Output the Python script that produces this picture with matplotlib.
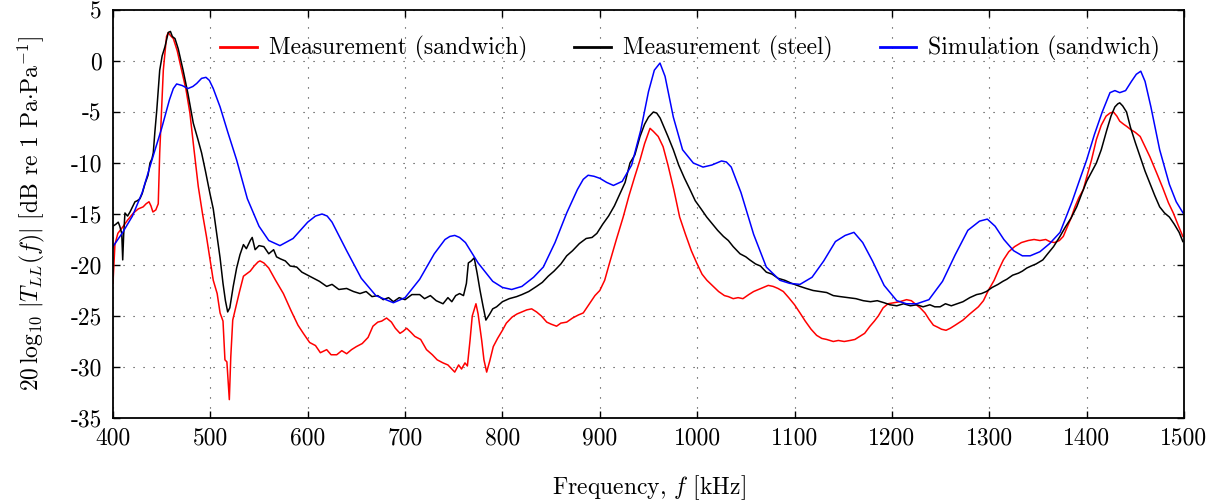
import matplotlib
matplotlib.use("Agg")
import matplotlib.pyplot as plt
from matplotlib.ticker import MultipleLocator
import warnings
warnings.filterwarnings("ignore")

plt.rcParams['font.family'] = ['cmr10', 'DejaVu Serif']
plt.rcParams['mathtext.fontset'] = 'cm'
plt.rcParams['axes.unicode_minus'] = False
plt.rcParams['font.size'] = 17

# Measurement (sandwich) - red, (frequency kHz, dB) pairs
sandwich_meas = [
    (400, -21.8), (402, -18.0), (405, -16.9), (410.6, -16.2), (415, -15.6), (421, -14.9), (426, -14.5),
    (431, -14.3), (434, -14.0), (437, -13.8), (439, -14.2), (441, -14.8), (444, -14.6), (446.5, -14.0),
    (448, -9.0), (451.7, -0.9), (455, 2.4), (456.8, 2.8), (459, 2.5), (462, 2.2), (466, 1.0), (470.5, -0.9),
    (475, -2.8), (479, -5.1), (483, -8.5), (487.6, -12.3), (492, -15.0), (496, -17.2), (503, -21.5),
    (507, -22.8), (510, -24.7), (513, -25.5), (515, -29.3), (517, -29.5), (519.5, -33.2), (521, -29.0),
    (523, -25.4), (527, -23.8), (530, -22.6), (534, -21.1), (541, -20.6), (545, -20.1), (549, -19.7),
    (551, -19.6), (555, -19.8), (560, -20.3), (567, -21.5), (575, -22.8), (583, -24.5), (590, -25.9),
    (595.5, -26.7), (602, -27.6), (608, -27.9), (613, -28.6), (619.5, -28.3), (624, -28.8), (629.8, -28.8),
    (635, -28.4), (640, -28.7), (645, -28.3), (650, -28.0), (656, -27.7), (662, -27.1), (667, -26.0),
    (672, -25.6), (676, -25.5), (681, -25.2), (686, -25.6), (690, -26.2), (694.8, -26.7), (698, -26.5),
    (701.6, -26.2), (706, -26.6), (710, -27.0), (716, -27.3), (722, -28.3), (728, -28.8), (733, -29.3),
    (739, -29.6), (744, -29.8), (748, -30.2), (751, -30.5), (755, -29.8), (758, -30.2), (761.5, -29.6),
    (764, -29.9), (766.7, -27.4), (769, -25.0), (772.8, -23.8), (775, -24.8), (778.7, -27.4), (781, -29.3),
    (783.8, -30.5), (787, -29.4), (790.6, -28.0), (795, -27.2), (800, -26.4), (804, -25.7), (810, -25.1),
    (815, -24.8), (820, -24.6), (825, -24.4), (830, -24.3), (835, -24.6), (840, -25.0), (845.5, -25.6),
    (850, -25.8), (855.6, -26.0), (860, -25.7), (866, -25.6), (872, -25.2), (878, -24.9), (883, -24.7),
    (890, -23.7), (895, -23.0), (900, -22.5), (905, -21.5), (910, -19.8), (917, -17.5), (924, -15.3),
    (930, -13.2), (936, -11.3), (941.3, -9.7), (946, -8.1), (951.6, -6.6), (955, -6.9), (960, -7.4),
    (965, -8.4), (970, -10.2), (976, -12.6), (982, -15.3), (988, -17.0), (994, -18.6), (999.5, -19.8),
    (1005, -20.9), (1010, -21.5), (1016.6, -22.1), (1022, -22.6), (1028, -23.0), (1032, -23.1),
    (1037, -23.3), (1042, -23.2), (1047, -23.3), (1053, -22.9), (1058, -22.6), (1063, -22.4), (1068, -22.2),
    (1073, -22.0), (1078, -22.1), (1083, -22.3), (1088.5, -22.6), (1094, -23.2), (1100, -23.9),
    (1105.6, -24.7), (1111, -25.5), (1117, -26.3), (1122.7, -26.9), (1128, -27.2), (1133, -27.3),
    (1139.8, -27.5), (1145, -27.4), (1151, -27.5), (1157, -27.4), (1162, -27.3), (1167, -27.0),
    (1172, -26.7), (1177.5, -26.0), (1182, -25.5), (1186, -25.0), (1191, -24.2), (1196, -23.8),
    (1202, -23.7), (1208, -23.6), (1215, -23.4), (1220, -23.5), (1225, -23.9), (1229, -24.2), (1234, -24.7),
    (1238, -25.3), (1242.6, -25.9), (1247, -26.1), (1251, -26.3), (1255.6, -26.4), (1260, -26.2),
    (1265, -25.9), (1273, -25.4), (1280, -24.8), (1288.8, -24.1), (1294, -23.5), (1299, -22.5),
    (1305, -21.5), (1310, -20.4), (1314.5, -19.5), (1320, -18.7), (1326, -18.2), (1333, -17.8),
    (1340, -17.6), (1346, -17.5), (1352, -17.6), (1358, -17.5), (1362, -17.7), (1367, -17.8), (1372, -17.6),
    (1376, -17.2), (1379.5, -16.4), (1384, -15.4), (1388, -14.3), (1392, -13.4), (1396.6, -12.6),
    (1400, -11.4), (1405, -9.7), (1410, -7.7), (1415, -6.3), (1420, -5.4), (1424, -5.1), (1427.5, -5.0),
    (1431, -5.4), (1434, -5.9), (1438, -6.2), (1441, -6.4), (1445, -6.7), (1450, -7.0), (1455, -7.4),
    (1460, -8.4), (1465, -9.4), (1472, -11.0), (1478, -12.4), (1484, -13.9), (1489, -14.9), (1494, -16.1),
    (1498.8, -17.2)]

# Measurement (steel) - black
steel_meas = [
    (400, -16.2), (403, -16.0), (405.4, -15.8), (407, -16.2), (409, -16.9), (410, -19.5), (411, -17.0),
    (412.3, -14.9), (415, -15.2), (417.5, -14.8), (420, -14.3), (422.6, -13.8), (425, -13.7), (427.7, -13.5),
    (430, -13.0), (433, -12.0), (436, -11.2), (438, -10.0), (440, -9.6), (441.4, -9.0), (443, -7.0),
    (445, -4.8), (448, -0.9), (450.5, 0.5), (453.4, 1.4), (456.8, 2.8), (459, 2.9), (461, 2.4), (463.7, 2.2),
    (467, 1.2), (472, -0.9), (477, -3.2), (482.5, -6.1), (487, -7.6), (491, -9.0), (495, -10.8),
    (499.6, -13.0), (503, -14.5), (506.5, -16.9), (510, -19.3), (513, -21.8), (515.5, -23.5), (517.8, -24.6),
    (520, -24.2), (523.5, -22.1), (527, -20.3), (530.4, -19.0), (534, -18.0), (537, -18.4), (541, -17.6),
    (543, -17.3), (546, -18.5), (550, -18.1), (555, -18.2), (560, -18.9), (565, -18.5), (568, -19.2),
    (572, -19.4), (577, -19.6), (582, -20.1), (588.7, -20.2), (594, -20.7), (600, -21.0), (606, -21.3),
    (612, -21.6), (619.5, -22.1), (625, -21.9), (632, -22.4), (640, -22.3), (647, -22.6), (653.7, -22.8),
    (660, -22.6), (666, -23.1), (672, -23.0), (677.6, -23.4), (683, -23.2), (688, -23.6), (694, -23.2),
    (700, -23.4), (707, -22.9), (715, -22.9), (720, -23.3), (726, -23.0), (732, -23.5), (739, -23.8),
    (744, -23.2), (748, -23.6), (752, -23.0), (756, -22.8), (760, -23.0), (763, -21.8), (765, -19.8),
    (768, -19.6), (771, -19.3), (774, -20.8), (777, -22.5), (780, -24.0), (783, -25.4), (787, -24.8),
    (790, -24.3), (794, -24.1), (800, -23.6), (807, -23.3), (814.6, -23.1), (820, -22.9), (827, -22.6),
    (835, -22.1), (841, -21.7), (847, -21.1), (853, -20.6), (860, -19.9), (866, -19.1), (872, -18.6),
    (879, -17.9), (886, -17.4), (892, -17.3), (897, -16.9), (903, -16.0), (909, -15.2), (915, -14.2),
    (920.8, -13.0), (926, -11.9), (931, -10.0), (936, -9.2), (941.3, -7.4), (946, -6.2), (950, -5.5),
    (955, -5.0), (958.4, -5.1), (962, -5.6), (966, -6.5), (970, -7.4), (975.5, -8.7), (981, -10.2),
    (987, -11.5), (992.6, -12.6), (998, -13.7), (1004, -14.5), (1009.8, -15.3), (1015, -15.9), (1021, -16.6),
    (1027, -17.2), (1032, -17.6), (1037, -18.2), (1044, -18.9), (1050, -19.2), (1054, -19.5), (1060, -19.9),
    (1065, -20.1), (1071, -20.7), (1077, -20.9), (1083, -21.3), (1090, -21.5), (1097, -21.8),
    (1105.6, -22.1), (1112, -22.3), (1119, -22.5), (1126, -22.6), (1133, -22.7), (1139.8, -23.0),
    (1147, -23.1), (1155, -23.2), (1163, -23.3), (1170.6, -23.5), (1178, -23.6), (1185, -23.5), (1192, -23.7),
    (1198, -23.9), (1205, -24.0), (1212, -23.8), (1219, -24.0), (1225.5, -23.9), (1232, -24.1), (1239, -23.9),
    (1244, -24.1), (1249.5, -24.1), (1255, -23.8), (1261, -24.0), (1267, -23.8), (1273, -23.6), (1280, -23.2),
    (1287, -22.9), (1292, -22.8), (1297, -22.6), (1303, -22.2), (1309, -21.9), (1314, -21.6), (1318, -21.4),
    (1324, -21.0), (1330, -20.8), (1334, -20.6), (1338.5, -20.3), (1343, -20.1), (1348, -19.9), (1355, -19.5),
    (1360, -18.9), (1366, -18.2), (1372.6, -17.2), (1378, -16.3), (1384, -15.4), (1389.8, -14.3),
    (1395, -13.0), (1400, -11.8), (1405, -10.9), (1410, -10.0), (1415, -8.7), (1420.6, -6.8), (1425, -5.4),
    (1429, -4.5), (1432, -4.2), (1434, -4.1), (1437, -4.4), (1441, -5.0), (1445, -6.5), (1450, -8.0),
    (1455, -9.4), (1460, -10.8), (1465, -12.0), (1470, -13.2), (1475, -14.3), (1480, -14.9), (1485, -15.3),
    (1490, -16.0), (1495, -16.8), (1498.8, -17.7)]

# Simulation (sandwich) - blue
sandwich_sim = [
    (400, -18.2), (410, -16.8), (420, -15.2), (430, -12.9), (441, -9.4), (450, -6.6), (458, -3.8),
    (462, -2.7), (465.4, -2.25), (471, -2.4), (477, -2.7), (482, -2.5), (486, -2.2), (491, -1.7),
    (495.5, -1.6), (499, -1.9), (503, -2.7), (510, -4.5), (518, -7.0), (527, -9.7), (538, -13.5),
    (550, -16.2), (560, -17.6), (571.5, -18.1), (585, -17.4), (600, -15.8), (608, -15.2), (614.7, -15.0),
    (620, -15.2), (625, -15.8), (640, -18.6), (655, -21.3), (670, -23.0), (688, -23.7), (700, -23.2),
    (715, -21.4), (730, -18.9), (741, -17.5), (746, -17.2), (751, -17.1), (756, -17.3), (762, -17.8),
    (775, -19.8), (790, -21.6), (800, -22.2), (809.5, -22.4), (820, -22.1), (832, -21.2), (842, -20.2),
    (854, -17.8), (866, -14.9), (877, -12.6), (883, -11.6), (888, -11.2), (894, -11.3), (900, -11.5),
    (907, -11.9), (914, -12.2), (923, -11.8), (932.7, -10.2), (942, -6.8), (950, -3.0), (956, -0.9),
    (961.8, -0.2), (967, -1.5), (975.5, -5.5), (985, -8.7), (996, -10.0), (1006, -10.4), (1015, -10.2),
    (1025, -9.8), (1030, -9.9), (1035, -10.4), (1045, -12.9), (1058, -17.0), (1071, -20.2), (1085, -21.5),
    (1095, -21.8), (1105.6, -21.9), (1118, -21.2), (1130, -19.6), (1142, -17.7), (1152, -17.1),
    (1161, -16.8), (1170, -17.8), (1180, -19.6), (1192, -22.0), (1205, -23.5), (1215, -23.8),
    (1225.5, -23.8), (1238, -23.4), (1252, -21.6), (1265, -19.0), (1278, -16.6), (1290, -15.7),
    (1298, -15.5), (1306, -16.2), (1315, -17.5), (1325, -18.6), (1334, -19.1), (1342, -19.1), (1352, -18.7),
    (1362, -17.9), (1372.7, -16.8), (1385, -13.8), (1393, -11.6), (1400, -9.7), (1408, -7.2), (1416, -5.0),
    (1424, -3.1), (1429, -2.9), (1434, -3.1), (1440, -2.9), (1446, -2.0), (1451, -1.3), (1455.6, -1.0),
    (1460, -2.0), (1466, -4.5), (1475, -8.7), (1485, -12.1), (1492, -13.8), (1499, -14.9)]

f_sand, db_sand = zip(*sandwich_meas)
f_steel, db_steel = zip(*steel_meas)
f_sim, db_sim = zip(*sandwich_sim)

fig = plt.figure(figsize=(12.2, 5.01), dpi=100)
ax = fig.add_axes([0.0926, 0.1657, 0.8779, 0.8143])

ax.plot(f_sand, db_sand, color='#ff0000', lw=1.1, label='Measurement (sandwich)')
ax.plot(f_steel, db_steel, color='black', lw=1.1, label='Measurement (steel)')
ax.plot(f_sim, db_sim, color='#0000ff', lw=1.1, label='Simulation (sandwich)')

ax.set_xlim(400, 1500)
ax.set_ylim(-35, 5)
ax.xaxis.set_major_locator(MultipleLocator(100))
ax.yaxis.set_major_locator(MultipleLocator(5))
ax.tick_params(direction='in', length=5, width=1.0, top=True, right=True, labelsize=17)
ax.tick_params(axis='x', pad=7)
ax.tick_params(axis='y', pad=8)
for s in ax.spines.values():
    s.set_linewidth(1.3)
ax.grid(True, color='#333333', linestyle=(0, (1, 8)), linewidth=0.8)

ax.set_xlabel(r'Frequency, $f$ [kHz]', fontsize=17, labelpad=17)
ax.set_ylabel(r'$20\,\log_{10}\,|T_{LL}(f)|$ [dB re 1 Pa$\cdot$Pa$^{-1}$]', fontsize=17, labelpad=17)

ax.legend(loc='center', bbox_to_anchor=(0.539, 0.905), ncol=3, frameon=False, fontsize=17,
          handlelength=1.55, handletextpad=0.5, columnspacing=2.0)
for l in ax.get_legend().get_lines():
    l.set_linewidth(2.0)

fig.savefig('out.png', dpi=100)
